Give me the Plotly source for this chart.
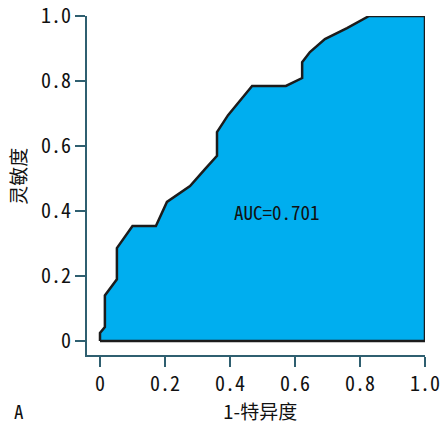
import plotly.graph_objects as go

# ROC curve points (1-specificity, sensitivity)
fpr = [0.0, 0.0, 0.015, 0.015, 0.052, 0.052, 0.10, 0.172, 0.206, 0.277, 0.323,
       0.36, 0.36, 0.394, 0.468, 0.572, 0.622, 0.622, 0.646, 0.692, 0.76, 0.828, 1.0]
tpr = [0.0, 0.025, 0.043, 0.14, 0.19, 0.286, 0.354, 0.354, 0.428, 0.477, 0.529,
       0.57, 0.643, 0.695, 0.785, 0.785, 0.809, 0.858, 0.889, 0.929, 0.963, 1.0, 1.0]

tick_vals = [0, 0.2, 0.4, 0.6, 0.8, 1.0]
tick_text = ["0", "0.2", "0.4", "0.6", "0.8", "1.0"]
auc_text = "AUC=0.701"
x_title = "1-特异度"
y_title = "灵敏度"
panel_label = "A"

mono = "Noto Sans Mono CJK SC, Liberation Mono, monospace"
cjk = "Noto Sans CJK SC, sans-serif"
axis_color = "#2f5f70"

# closed polygon: curve then down the right edge and back along the bottom
poly_x = fpr + [1.0, 0.0]
poly_y = tpr + [0.0, 0.0]

fig = go.Figure()
fig.add_trace(go.Scatter(
    x=poly_x, y=poly_y, mode="lines", fill="toself",
    fillcolor="#00AEEF", line=dict(color="#1c1c1c", width=2.5),
    hoverinfo="skip", showlegend=False,
))

fig.update_layout(
    width=443, height=424,
    margin=dict(l=87, r=18, t=16, b=69, autoexpand=False),
    plot_bgcolor="white", paper_bgcolor="white",
    showlegend=False,
)
fig.add_annotation(x=0.545, y=0.40, text=auc_text, showarrow=False,
                   xanchor="center", yanchor="middle",
                   font=dict(family=mono, size=19, color="#111111"))
fig.add_annotation(x=-0.204, y=0.526, xref="paper", yref="paper", text=y_title,
                   showarrow=False, textangle=-90, xanchor="center", yanchor="middle",
                   font=dict(family=cjk, size=19, color="#111111"))
fig.add_annotation(x=-0.20, y=-0.165, xref="paper", yref="paper", text=panel_label,
                   showarrow=False, xanchor="center", yanchor="middle",
                   font=dict(family=mono, size=19, color="#111111"))
fig.add_annotation(x=0.512, y=-0.165, xref="paper", yref="paper", text=x_title,
                   showarrow=False, xanchor="center", yanchor="middle",
                   font=dict(family=cjk, size=19, color="#111111"))

fig.update_xaxes(range=[-0.04, 1.0], showgrid=False, zeroline=False, automargin=False,
                 showline=True, linecolor=axis_color, linewidth=2,
                 ticks="outside", ticklen=10, tickwidth=2, tickcolor=axis_color,
                 tickvals=tick_vals, ticktext=tick_text,
                 tickfont=dict(family=mono, size=20, color="#111111"))
fig.update_yaxes(range=[-0.043, 1.0], showgrid=False, zeroline=False, automargin=False,
                 showline=True, linecolor=axis_color, linewidth=2,
                 ticks="outside", ticklen=10, tickwidth=2, tickcolor=axis_color,
                 tickvals=tick_vals, ticktext=tick_text,
                 tickfont=dict(family=mono, size=20, color="#111111"))

# remove the default 8px page margin so the figure sits at the window's corner
fig.write_html("out.html", config={"displayModeBar": False},
               post_script="document.body.style.margin='0';")
